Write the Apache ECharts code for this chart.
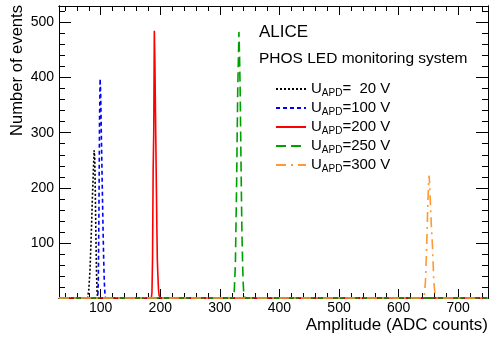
<!DOCTYPE html>
<html>
<head>
    <meta charset="utf-8">
    <script src="https://cdn.jsdelivr.net/npm/echarts@6/dist/echarts.min.js"></script>
</head>
<body style="margin:0;">
<div id="main" style="width: 498px;height:339px;"></div>
<script type="text/javascript">
    // histogram peaks, [ADC amplitude, events]
    let names = ['U{s|APD}=  20 V', 'U{s|APD}=100 V', 'U{s|APD}=200 V', 'U{s|APD}=250 V', 'U{s|APD}=300 V'];
    let h20 = [[30,0],[78,0],[80,15],[82,50],[84,110],[86,180],[88,240],[89,268],[90,255],[91,190],[92,110],[93,45],[94,10],[95,0],[750,0]];
    let h100 = [[30,0],[95,0],[96,30],[97,150],[98,320],[99,398],[100,370],[101,300],[102,240],[103,180],[104,120],[105,70],[106,30],[107,10],[108,0],[750,0]];
    let h200 = [[30,0],[185,0],[186,10],[187,70],[188,230],[189,300],[190,485],[191,423],[192,330],[193,240],[194,150],[195,70],[196,40],[197,15],[198,5],[200,0],[750,0]];
    let h250 = [[30,0],[322,0],[324,10],[326,60],[328,200],[330,380],[331,430],[332,483],[333,440],[334,380],[335,290],[336,200],[337,120],[338,70],[339,30],[340,10],[342,0],[750,0]];
    let h300 = [[30,0],[640,0],[643,5],[645,30],[647,90],[649,170],[650,200],[651,222],[652,210],[653,180],[655,130],[657,90],[658,60],[659,30],[661,8],[663,0],[750,0]];
    let colors = ['#000000', '#0000ff', '#ff0000', '#00a000', '#ff9933'];
    let dashes = [[2, 2], [4, 3], 'solid', [10, 5], [10, 5, 2, 5]];
    let xMajor = [100, 200, 300, 400, 500, 600, 700];
    let yMajor = [100, 200, 300, 400, 500];

    let xMinor = [];
    for (let v = 40; v <= 740; v += 20) if (v % 100 !== 0) xMinor.push(v);
    let yMinor = [];
    for (let v = 20; v <= 520; v += 20) if (v % 100 !== 0) yMinor.push(v);

    var myChart = echarts.init(document.getElementById('main'));
    let font = 'Liberation Sans';

    function xAx(pos, ticks, len, labels) {
        return {
            type: 'value', position: pos, min: 30, max: 750,
            axisLine: {show: true, onZero: false, lineStyle: {color: '#000', width: 1}},
            axisTick: {show: true, inside: true, length: len, customValues: ticks, lineStyle: {color: '#000'}},
            axisLabel: {show: labels, customValues: ticks, color: '#000', fontSize: 14, fontFamily: font, margin: 3},
            splitLine: {show: false}
        };
    }
    function yAx(pos, ticks, len, labels) {
        return {
            type: 'value', position: pos, min: 0, max: 530,
            axisLine: {show: true, onZero: false, lineStyle: {color: '#000', width: 1}},
            axisTick: {show: true, inside: true, length: len, customValues: ticks, lineStyle: {color: '#000'}},
            axisLabel: {show: labels, customValues: ticks, color: '#000', fontSize: 14, fontFamily: font, margin: 5},
            splitLine: {show: false}
        };
    }

    let hists = [h20, h100, h200, h250, h300];
    let series = hists.map(function (d, i) {
        return {
            name: names[i], type: 'line', data: d, symbol: 'none', clip: false,
            lineStyle: {color: colors[i], width: 1.6, type: dashes[i]},
            itemStyle: {color: colors[i]}
        };
    });

    myChart.setOption({
        animation: false,
        grid: {left: 59, right: 10, top: 6, bottom: 41},
        xAxis: [xAx('bottom', xMajor, 9, true), xAx('bottom', xMinor, 5, false),
                xAx('top', xMajor, 9, false), xAx('top', xMinor, 5, false)],
        yAxis: [yAx('left', yMajor, 12, true), yAx('left', yMinor, 6, false),
                yAx('right', yMajor, 12, false), yAx('right', yMinor, 6, false)],
        legend: {
            orient: 'vertical', left: 275, top: 80, itemWidth: 30, itemHeight: 10, itemGap: 1,
            padding: 0,
            data: names,
            itemStyle: {opacity: 0},
            textStyle: {
                color: '#000', fontSize: 15, fontFamily: font, lineHeight: 18,
                rich: {s: {fontSize: 10, fontFamily: font, lineHeight: 18, padding: [8, 0, 0, 0]}}
            }
        },
        graphic: [
            {type: 'text', left: 259, top: 24, style: {text: 'ALICE', fontSize: 17, fontFamily: font, fill: '#000'}},
            {type: 'text', left: 259, top: 51, style: {text: 'PHOS LED monitoring system', fontSize: 15.5, fontFamily: font, fill: '#000'}},
            {type: 'text', x: 17, y: 5, rotation: Math.PI / 2,
             style: {text: 'Number of events', fontSize: 16.6, fontFamily: font, fill: '#000', align: 'right', verticalAlign: 'middle'}},
            {type: 'text', x: 488, y: 325,
             style: {text: 'Amplitude (ADC counts)', fontSize: 17, fontFamily: font, fill: '#000', align: 'right', verticalAlign: 'middle'}}
        ],
        series: series
    });
</script>
</body>
</html>
